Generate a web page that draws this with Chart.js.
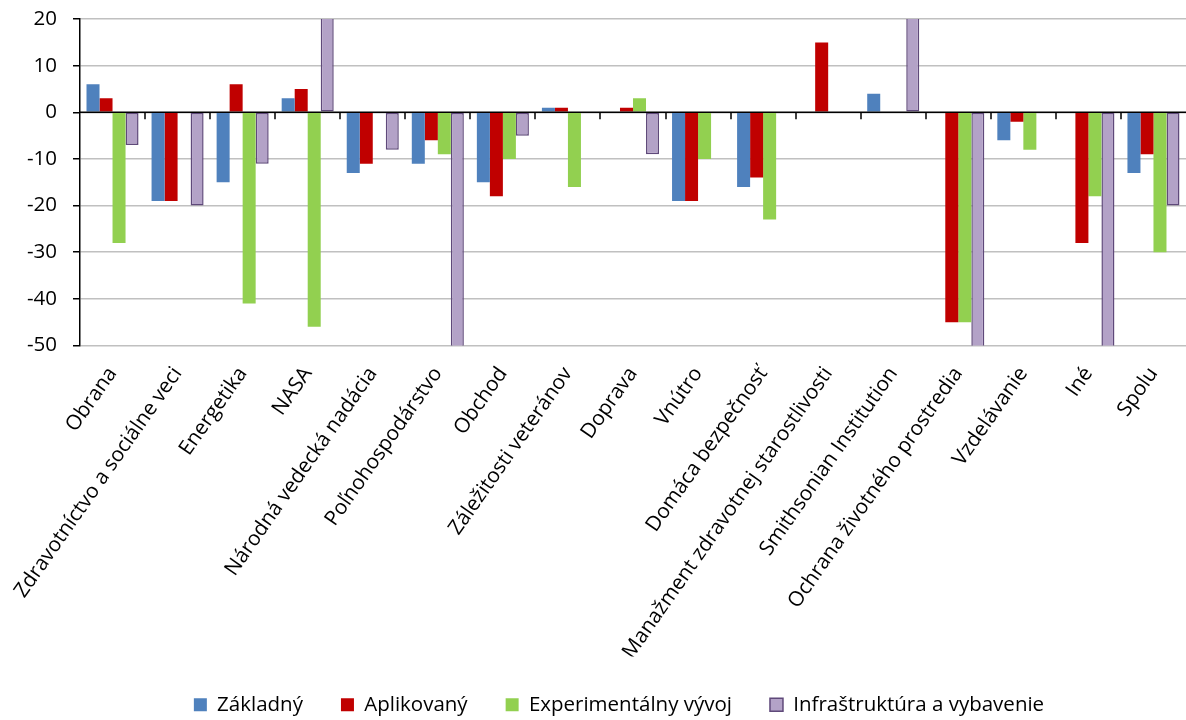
<!DOCTYPE html>
<html>
<head>
<meta charset="utf-8">
<script src="https://cdn.jsdelivr.net/npm/chart.js@4"></script>
<style>
    html, body { margin: 0; padding: 0; background: #fff; }
    #chart-container { width: 1186px; height: 720px; }
</style>
</head>
<body>
<div id="chart-container"><canvas id="chart"></canvas></div>
<script>
const CATEGORIES = ['Obrana', 'Zdravotníctvo a sociálne veci', 'Energetika', 'NASA', 'Národná vedecká nadácia',
    'Poľnohospodárstvo', 'Obchod', 'Záležitosti veteránov', 'Doprava', 'Vnútro', 'Domáca bezpečnosť',
    'Manažment zdravotnej starostlivosti', 'Smithsonian Institution', 'Ochrana životného prostredia',
    'Vzdelávanie', 'Iné', 'Spolu'];
const ZAKLADNY = [6, -19, -15, 3, -13, -11, -15, 1, null, -19, -16, null, 4, null, -6, null, -13];
const APLIKOVANY = [3, -19, 6, 5, -11, -6, -18, 1, 1, -19, -14, 15, null, -45, -2, -28, -9];
const EXPERIMENTALNY = [-28, null, -41, -46, null, -9, -10, -16, 3, -10, -23, null, null, -45, -8, -18, -30];
// bars that run off the chart (NASA, Poľnohosp., Smithsonian, Ochrana, Iné) are guesses
const INFRASTRUKTURA = [-7, -20, -11, 52, -8, -75, -5, null, -9, null, null, null, 45, -67, null, -100, -20];
const Y_TICKS = [20, 10, 0, -10, -20, -30, -40, -50];

const FONT = '"Open Sans", Lato, sans-serif';

// Excel style: black axis line at zero with small ticks between categories
const zeroAxis = {
    id: 'zeroAxis',
    afterLayout(chart) {
        // legend sits a bit right of the canvas centre in the original
        chart.legend.left += 26;
        chart.legend.right += 26;
    },
    afterDatasetsDraw(chart) {
        const { ctx, scales: { x, y } } = chart;
        const y0 = y.getPixelForValue(0);
        ctx.save();
        ctx.strokeStyle = '#000';
        ctx.lineWidth = 1.5;
        ctx.beginPath();
        ctx.moveTo(chart.chartArea.left, y0);
        ctx.lineTo(chart.chartArea.right, y0);
        for (let i = 1; i < CATEGORIES.length; i++) {
            const px = Math.round((x.getPixelForValue(i - 1) + x.getPixelForValue(i)) / 2);
            ctx.moveTo(px, y0);
            ctx.lineTo(px, y0 + 7);
        }
        ctx.stroke();
        ctx.restore();
    }
};

new Chart(document.getElementById('chart'), {
    type: 'bar',
    data: {
        labels: CATEGORIES,
        datasets: [{
            label: 'Základný',
            data: ZAKLADNY,
            backgroundColor: '#4F81BD',
            borderColor: '#4F81BD',
            borderWidth: 0
        }, {
            label: 'Aplikovaný',
            data: APLIKOVANY,
            backgroundColor: '#C00000',
            borderColor: '#C00000',
            borderWidth: 0
        }, {
            label: 'Experimentálny vývoj',
            data: EXPERIMENTALNY,
            backgroundColor: '#92D050',
            borderColor: '#92D050',
            borderWidth: 0
        }, {
            label: 'Infraštruktúra a vybavenie',
            data: INFRASTRUKTURA,
            backgroundColor: '#B3A2C7',
            borderColor: '#5F497A',
            borderWidth: 1.5
        }]
    },
    plugins: [zeroAxis],
    options: {
        responsive: true,
        maintainAspectRatio: false,
        animation: false,
        datasets: {
            bar: { categoryPercentage: 0.8, barPercentage: 1.0, borderSkipped: false }
        },
        layout: { padding: { top: 0, right: 0, left: 0, bottom: -5 } },
        plugins: {
            tooltip: { enabled: false },
            legend: {
                position: 'bottom',
                labels: {
                    color: '#000',
                    font: { family: FONT, size: 20.5 },
                    boxWidth: 13,
                    boxHeight: 13,
                    padding: 38
                }
            }
        },
        scales: {
            x: {
                grid: { display: false, drawTicks: false },
                border: { display: false },
                ticks: {
                    color: '#000',
                    font: { family: FONT, size: 20.7 },
                    maxRotation: 55,
                    minRotation: 55,
                    autoSkip: false,
                    padding: 17
                },
                afterFit(scale) {
                    scale.height = 311;
                    scale.paddingLeft = 0;
                    scale.paddingRight = 0;
                }
            },
            y: {
                min: -50,
                max: 20,
                afterBuildTicks(scale) { scale.ticks = Y_TICKS.map(v => ({ value: v })); },
                grid: {
                    color: '#C0C0C0',
                    lineWidth: 1.5,
                    tickColor: '#000',
                    tickLength: 7
                },
                border: { color: '#000', width: 1.5 },
                ticks: {
                    color: '#000',
                    font: { family: FONT, size: 20.5, lineHeight: 0.3 },
                    padding: 16
                },
                afterFit(scale) { scale.width = 80; }
            }
        }
    }
});
</script>
</body>
</html>
